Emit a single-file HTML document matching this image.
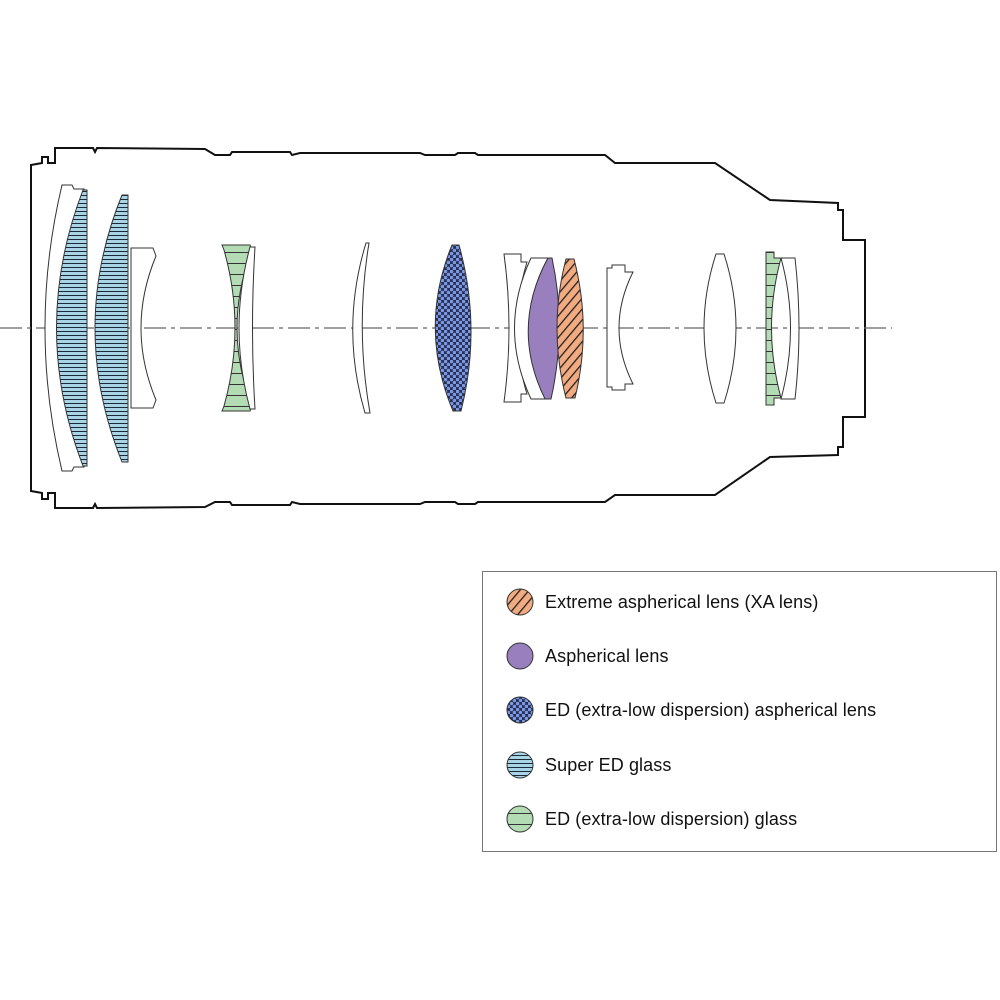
<!DOCTYPE html>
<html><head><meta charset="utf-8"><style>
html,body{margin:0;padding:0;background:#fff}
svg{display:block}
text{font-family:"Liberation Sans",sans-serif;font-size:18px;fill:#111;letter-spacing:0.1px}
</style></head><body>
<svg width="1000" height="1000" viewBox="0 0 1000 1000" xmlns="http://www.w3.org/2000/svg">
<defs>
<pattern id="sed" width="4" height="4" patternUnits="userSpaceOnUse"><rect width="4" height="4" fill="#a8d4e6"/><rect y="3" width="4" height="1.2" fill="#1a2a38"/></pattern>
<pattern id="ed" width="10" height="11" patternUnits="userSpaceOnUse"><rect width="10" height="11" fill="#b4dcb4"/><rect y="10" width="10" height="1" fill="#333"/></pattern>
<pattern id="chk" width="6" height="6" patternUnits="userSpaceOnUse"><rect width="6" height="6" fill="#2a3050"/><circle cx="1.5" cy="1.5" r="1.8" fill="#7a98e8"/><circle cx="4.5" cy="4.5" r="1.8" fill="#7a98e8"/></pattern>
<pattern id="xa" width="7" height="7" patternUnits="userSpaceOnUse" patternTransform="rotate(40)"><rect width="7" height="7" fill="#f2aa80"/><rect width="1.3" height="7" fill="#222"/></pattern>
</defs>
<path d="M31,165 L42,163 L42,157 L48,157 L48,163 L55,163 L55,148 L93,148 L95,152 L97,148 L205,149 L215,155 L230,155 L232,152 L290,152 L292,155 L300,153 L420,153 L425,155 L455,155 L458,153 L475,153 L478,155 L605,155 L615,163 L715,163 L770,200 L838,203 L838,210 L843,210 L843,240 L865,240 L865,417 L843,417 L843,447 L838,447 L838,455 L770,457 L715,495 L615,495 L605,502 L478,502 L475,504 L458,504 L455,502 L425,502 L420,504 L300,504 L292,502 L290,505 L232,505 L230,502 L215,502 L205,507 L97,508 L95,504 L93,508 L55,508 L55,493 L48,493 L48,499 L42,499 L42,493 L31,491 Z" fill="none" stroke="#111" stroke-width="2"/>
<line x1="0" y1="328" x2="892" y2="328" stroke="#666" stroke-width="1.2" stroke-dasharray="22,5,4,5"/>
<g stroke="#333" stroke-width="1">
<path d="M62,185 L72,185 L74,189 L84,189 Q52,328 84,467 L74,467 L72,471 L62,471 Q28,328 62,185 Z" fill="#fff"/>
<path d="M83,190 L87,190 L87,466 L83,466 Q30,328 83,190 Z" fill="url(#sed)"/>
<path d="M122,195 L128,195 L128,462 L122,462 Q68,328 122,195 Z" fill="url(#sed)"/>
<path d="M131,248 L153,248 L156,256 Q126,328 156,400 L153,408 L131,408 Z" fill="#fff"/>
<path d="M222,245 L250,245 L252,250 Q222,328 252,406 L250,411 L222,411 L224,406 Q246,328 224,250 Z" fill="url(#ed)"/>
<path d="M250,247 L255,247 Q250,328 255,409 L250,409 Q228,328 250,247 Z" fill="#fff"/>
<path d="M366,243 L369,243 Q355,328 370,413 L365,413 Q340,328 366,243 Z" fill="#fff"/>
<path d="M452,245 L459,245 Q482,328 461,411 L453,411 Q418,328 452,245 Z" fill="url(#chk)"/>
<path d="M504,254 L521,254 L521,262 L527,262 Q507,328 527,394 L521,394 L521,402 L504,402 Q514,328 504,254 Z" fill="#fff"/>
<path d="M531,258 L548,258 Q510,328 548,399 L531,399 Q498,328 531,258 Z" fill="#fff"/>
<path d="M548,258 L552,258 Q567,328 551,399 L545,399 Q510,328 548,258 Z" fill="#9a7fbf"/>
<path d="M566,259 L574,259 Q592,328 575,398 L566,398 Q548,328 566,259 Z" fill="url(#xa)"/>
<path d="M607,268 L612,268 L612,265 L625,265 L625,272 L633,272 Q605,328 633,384 L625,384 L625,390 L612,390 L612,387 L607,387 Z" fill="#fff"/>
<path d="M716,254 L724,254 Q748,328 724,403 L716,403 Q692,328 716,254 Z" fill="#fff"/>
<path d="M766,252 L774,252 L774,258 L781,258 Q762,328 781,398 L774,398 L774,405 L766,405 Z" fill="url(#ed)"/>
<path d="M781,258 L795,258 Q803,328 795,399 L781,399 Q800,328 781,258 Z" fill="#fff"/>
</g>
<rect x="482.5" y="571.5" width="514" height="280" fill="#fff" stroke="#777" stroke-width="1"/>
<g stroke="#333" stroke-width="1">
<circle cx="520" cy="602" r="13" fill="url(#xa)"/>
<circle cx="520" cy="656" r="13" fill="#9a7fbf"/>
<circle cx="520" cy="710" r="13" fill="url(#chk)"/>
<circle cx="520" cy="765" r="13" fill="url(#sed)"/>
<circle cx="520" cy="819" r="13" fill="url(#ed)"/>
</g>
<text x="545" y="608">Extreme aspherical lens (XA lens)</text>
<text x="545" y="662">Aspherical lens</text>
<text x="545" y="716">ED (extra-low dispersion) aspherical lens</text>
<text x="545" y="771">Super ED glass</text>
<text x="545" y="825">ED (extra-low dispersion) glass</text>
</svg>
</body></html>
